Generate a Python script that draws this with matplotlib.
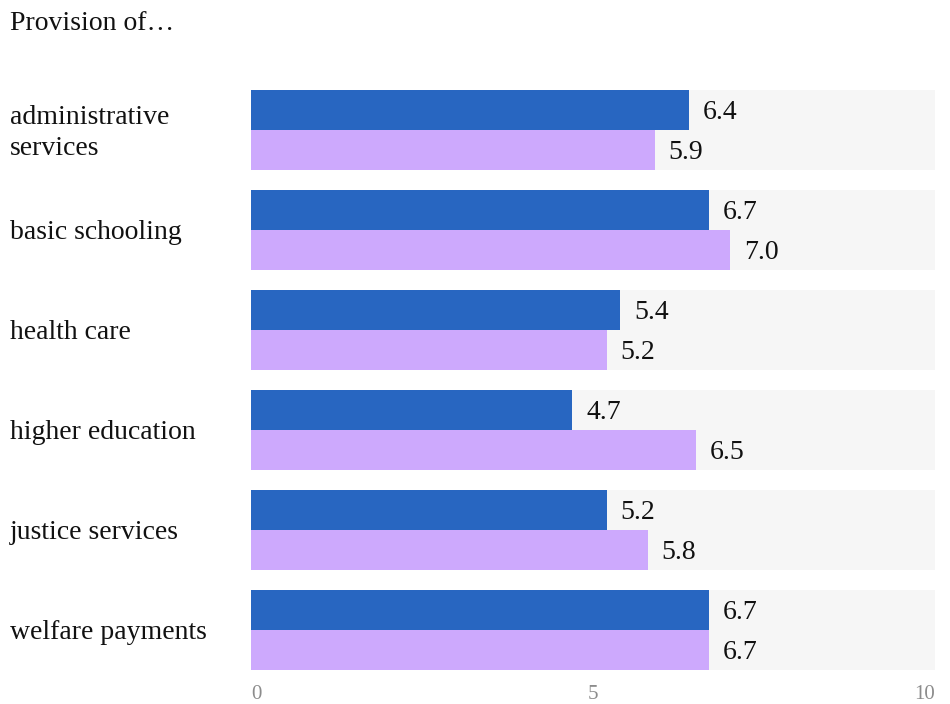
import matplotlib.pyplot as plt
import matplotlib.transforms as mtransforms

categories = ["administrative\nservices", "basic schooling", "health care",
              "higher education", "justice services", "welfare payments"]
series_a = [6.4, 6.7, 5.4, 4.7, 5.2, 6.7]
series_b = [5.9, 7.0, 5.2, 6.5, 5.8, 6.7]
x_ticks = [0, 5, 10]
x_max = 10

plt.rcParams['font.family'] = ['Liberation Serif', 'DejaVu Serif']

fig = plt.figure(figsize=(9.5, 7.04), dpi=100)
ax = fig.add_axes([251 / 950, 1 - 670 / 704, 684 / 950, 580 / 704])

band_h = 0.8
bar_h = band_h / 2
ypos = list(range(len(categories)))

# grey track behind each pair of bars
ax.barh(ypos, [x_max] * len(ypos), height=band_h, color='#f6f6f6', zorder=1)
ax.barh([y - bar_h / 2 for y in ypos], series_a, height=bar_h, color='#2866c1', zorder=2)
ax.barh([y + bar_h / 2 for y in ypos], series_b, height=bar_h, color='#cda9fd', zorder=2)

for y, a, b in zip(ypos, series_a, series_b):
    ax.annotate(f"{a:.1f}", (a, y - bar_h / 2), xytext=(10, -2), textcoords='offset points',
                va='center', ha='left', fontsize=20, color='#111111')
    ax.annotate(f"{b:.1f}", (b, y + bar_h / 2), xytext=(10, -2), textcoords='offset points',
                va='center', ha='left', fontsize=20, color='#111111')

ax.set_xlim(0, x_max)
ax.set_ylim(len(categories) - 1 + band_h / 2, -band_h / 2)

# category names sit flush against the left edge of the figure
trans = mtransforms.blended_transform_factory(fig.transFigure, ax.transData)
trans = trans + mtransforms.ScaledTranslation(0, -2 / 72, fig.dpi_scale_trans)
for y, name in zip(ypos, categories):
    ax.text(10 / 950, y, name, transform=trans, ha='left', va='center',
            fontsize=20, color='#111111', linespacing=1.3)

ax.set_yticks([])
ax.set_xticks(x_ticks)
ax.tick_params(axis='x', length=0, pad=11, labelsize=15, labelcolor='#8c8c8c')
tick_labels = ax.get_xticklabels()
tick_labels[0].set_horizontalalignment('left')
tick_labels[-1].set_horizontalalignment('right')
for s in ax.spines.values():
    s.set_visible(False)

fig.text(10 / 950, 1 - 24 / 704, "Provision of\u2026", ha='left', va='center',
         fontsize=20, color='#111111')

fig.savefig('out.png', dpi=100)
